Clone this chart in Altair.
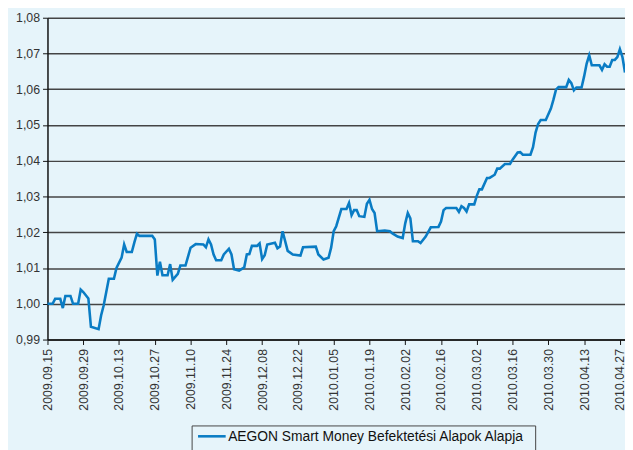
import altair as alt
import pandas as pd

dates = [
    "2009-09-15", "2009-09-17", "2009-09-18", "2009-09-20", "2009-09-21", "2009-09-22",
    "2009-09-24", "2009-09-25", "2009-09-27", "2009-09-28", "2009-09-29", "2009-10-01",
    "2009-10-02", "2009-10-05", "2009-10-06", "2009-10-07", "2009-10-09", "2009-10-11",
    "2009-10-12", "2009-10-14", "2009-10-15", "2009-10-16", "2009-10-18", "2009-10-19",
    "2009-10-20", "2009-10-21", "2009-10-26", "2009-10-27", "2009-10-28", "2009-10-29",
    "2009-10-30", "2009-11-01", "2009-11-02", "2009-11-03", "2009-11-05", "2009-11-06",
    "2009-11-08", "2009-11-09", "2009-11-10", "2009-11-12", "2009-11-15", "2009-11-16",
    "2009-11-17", "2009-11-18", "2009-11-19", "2009-11-20", "2009-11-22", "2009-11-23",
    "2009-11-25", "2009-11-26", "2009-11-27", "2009-11-29", "2009-12-01", "2009-12-02",
    "2009-12-03", "2009-12-04", "2009-12-06", "2009-12-07", "2009-12-08", "2009-12-09",
    "2009-12-10", "2009-12-13", "2009-12-14", "2009-12-15", "2009-12-16", "2009-12-18",
    "2009-12-20", "2009-12-23", "2009-12-24", "2009-12-29", "2009-12-30", "2010-01-01",
    "2010-01-03", "2010-01-04", "2010-01-05", "2010-01-06", "2010-01-08", "2010-01-10",
    "2010-01-11", "2010-01-12", "2010-01-13", "2010-01-14", "2010-01-15", "2010-01-17",
    "2010-01-18", "2010-01-19", "2010-01-20", "2010-01-21", "2010-01-22", "2010-01-25",
    "2010-01-27", "2010-01-28", "2010-01-30", "2010-02-01", "2010-02-02", "2010-02-03",
    "2010-02-04", "2010-02-05", "2010-02-07", "2010-02-08", "2010-02-10", "2010-02-12",
    "2010-02-15", "2010-02-16", "2010-02-17", "2010-02-18", "2010-02-22", "2010-02-23",
    "2010-02-24", "2010-02-25", "2010-02-26", "2010-02-27", "2010-03-01", "2010-03-02",
    "2010-03-03", "2010-03-04", "2010-03-06", "2010-03-07", "2010-03-09", "2010-03-10",
    "2010-03-11", "2010-03-13", "2010-03-15", "2010-03-16", "2010-03-18", "2010-03-19",
    "2010-03-20", "2010-03-23", "2010-03-24", "2010-03-25", "2010-03-26", "2010-03-27",
    "2010-03-29", "2010-03-30", "2010-03-31", "2010-04-01", "2010-04-02", "2010-04-03",
    "2010-04-06", "2010-04-07", "2010-04-08", "2010-04-09", "2010-04-10", "2010-04-12",
    "2010-04-13", "2010-04-14", "2010-04-15", "2010-04-16", "2010-04-19", "2010-04-20",
    "2010-04-21", "2010-04-22", "2010-04-23", "2010-04-24", "2010-04-25", "2010-04-26",
    "2010-04-27", "2010-04-28", "2010-04-29",
]

values = [
    1.0000, 1.0000, 1.0014, 1.0014, 0.9988, 1.0022,
    1.0022, 1.0000, 1.0000, 1.0040, 1.0033, 1.0015,
    0.9936, 0.9929, 0.9968, 0.9996, 1.0070, 1.0070,
    1.0100, 1.0129, 1.0166, 1.0145, 1.0145, 1.0172,
    1.0196, 1.0190, 1.0190, 1.0180, 1.0079, 1.0118,
    1.0080, 1.0080, 1.0111, 1.0067, 1.0084, 1.0107,
    1.0107, 1.0132, 1.0157, 1.0167, 1.0166, 1.0158,
    1.0180, 1.0166, 1.0138, 1.0122, 1.0122, 1.0138,
    1.0154, 1.0138, 1.0097, 1.0093, 1.0102, 1.0138,
    1.0139, 1.0162, 1.0162, 1.0169, 1.0125, 1.0136,
    1.0166, 1.0171, 1.0155, 1.0160, 1.0203, 1.0148,
    1.0138, 1.0135, 1.0158, 1.0160, 1.0138, 1.0124,
    1.0129, 1.0157, 1.0203, 1.0217, 1.0265, 1.0265,
    1.0282, 1.0248, 1.0262, 1.0262, 1.0245, 1.0243,
    1.0280, 1.0291, 1.0265, 1.0254, 1.0203, 1.0205,
    1.0203, 1.0197, 1.0188, 1.0184, 1.0225, 1.0254,
    1.0239, 1.0175, 1.0175, 1.0170, 1.0188, 1.0214,
    1.0215, 1.0230, 1.0262, 1.0268, 1.0268, 1.0257,
    1.0273, 1.0268, 1.0258, 1.0278, 1.0278, 1.0302,
    1.0320, 1.0320, 1.0352, 1.0352, 1.0361, 1.0378,
    1.0378, 1.0391, 1.0391, 1.0403, 1.0423, 1.0424,
    1.0417, 1.0417, 1.0438, 1.0479, 1.0503, 1.0514,
    1.0514, 1.0530, 1.0546, 1.0571, 1.0599, 1.0606,
    1.0606, 1.0626, 1.0617, 1.0597, 1.0605, 1.0605,
    1.0636, 1.0672, 1.0695, 1.0667, 1.0667, 1.0654,
    1.0670, 1.0663, 1.0663, 1.0682, 1.0682, 1.0690,
    1.0712, 1.0690, 1.0647,
]

series_name = "AEGON Smart Money Befektetési Alapok Alapja"

tick_dates = [
    (2009, 9, 15), (2009, 9, 29), (2009, 10, 13), (2009, 10, 27), (2009, 11, 10),
    (2009, 11, 24), (2009, 12, 8), (2009, 12, 22), (2010, 1, 5), (2010, 1, 19),
    (2010, 2, 2), (2010, 2, 16), (2010, 3, 2), (2010, 3, 16), (2010, 3, 30),
    (2010, 4, 13), (2010, 4, 27),
]
y_ticks = [0.99, 1.00, 1.01, 1.02, 1.03, 1.04, 1.05, 1.06, 1.07, 1.08]

df = pd.DataFrame({"date": dates, "value": values, "series": series_name})
legend_df = pd.DataFrame({"series": [series_name]})

BG = "#E6F4FA"
LINE = "#0A7CC4"
TXT = "#333333"
FONT = "Liberation Sans"

x_vals = [alt.DateTime(year=y, month=m, date=d, utc=True) for (y, m, d) in tick_dates]

line = alt.Chart(df).mark_line(strokeWidth=2.6, color=LINE).encode(
    x=alt.X(
        "date:T",
        scale=alt.Scale(
            type="utc",
            domain=[alt.DateTime(year=2009, month=9, date=15, utc=True),
                    alt.DateTime(year=2010, month=4, date=29, utc=True)],
            nice=False,
        ),
        axis=alt.Axis(
            title=None,
            values=x_vals,
            labelExpr="utcFormat(datum.value, '%Y.%m.%d')",
            labelAngle=270,
            labelAlign="right",
            labelBaseline="middle",
            labelPadding=4,
            labelFontSize=12.5,
            labelColor=TXT,
            labelFont=FONT,
            labelOverlap=False,
            labelFlush=False,
            grid=False,
            domainColor="#111111",
            domainWidth=1.5,
            tickColor="#111111",
            tickSize=5,
            tickWidth=1,
        ),
    ),
    y=alt.Y(
        "value:Q",
        scale=alt.Scale(domain=[0.99, 1.08], nice=False, zero=False),
        axis=alt.Axis(
            title=None,
            values=y_ticks,
            labelExpr="replace(format(datum.value, '.2f'), '.', ',')",
            labelFontSize=12.5,
            labelColor=TXT,
            labelFont=FONT,
            labelPadding=3,
            grid=True,
            gridColor="#444444",
            gridWidth=1.5,
            domainColor="#111111",
            domainWidth=1.5,
            tickColor="#111111",
            tickSize=5,
            tickWidth=1,
        ),
    ),
)

# Legend drawn as a boxed key below the plot
legend_box = alt.Chart(legend_df).mark_rect(
    fill=BG, stroke="#444444", strokeWidth=1
).encode(
    x=alt.value(146.5), x2=alt.value(494.5),
    y=alt.value(413.5), y2=alt.value(442),
)
legend_sym = alt.Chart(legend_df).mark_rule(color=LINE, strokeWidth=2.6).encode(
    x=alt.value(152.5), x2=alt.value(180.5), y=alt.value(424),
)
legend_txt = alt.Chart(legend_df).mark_text(
    align="left", baseline="middle", fontSize=14, font=FONT, color="#111111"
).encode(
    x=alt.value(183), y=alt.value(424.5), text="series:N",
)

chart = alt.layer(line, legend_box, legend_sym, legend_txt).properties(
    width=585,
    height=326,
    autosize=alt.AutoSizeParams(type="none"),
    padding={"left": 40, "top": 7, "right": 0, "bottom": 109},
    background=BG,
).configure_view(stroke=None)

chart.save("out.html", embed_options={"renderer": "svg", "actions": False})
